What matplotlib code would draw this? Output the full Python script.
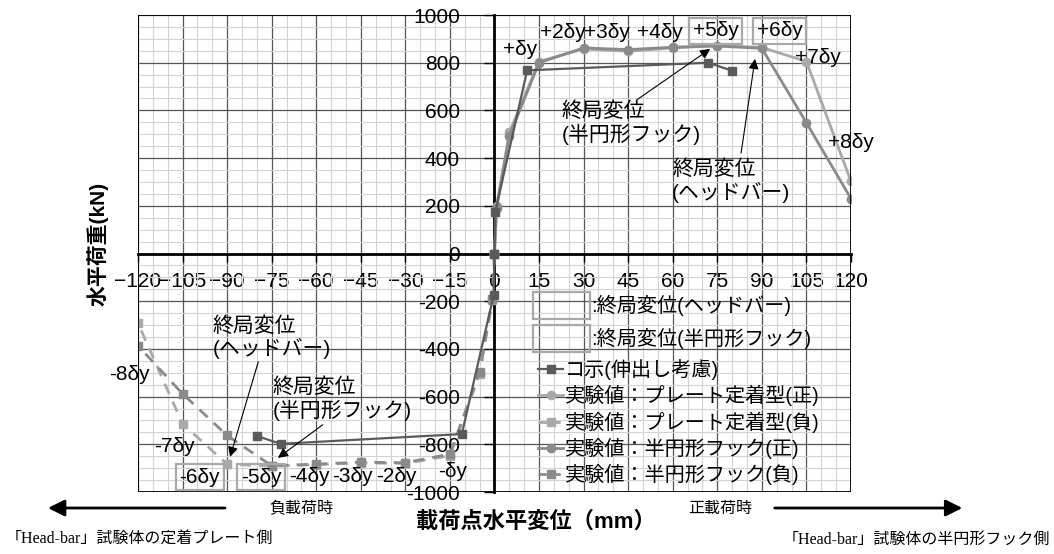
import matplotlib
matplotlib.use("Agg")
import matplotlib.pyplot as plt
from matplotlib.patches import Rectangle
from matplotlib.lines import Line2D

plt.rcParams['font.family'] = ['Liberation Sans', 'Noto Sans CJK JP']
plt.rcParams['axes.unicode_minus'] = True

# ---- data ----
kosi_x = [-80, -72, -11, -0.3, 0, 0.3, 11, 72, 80]
kosi_y = [-765, -798, -757, -176, 0, 176, 768, 800, 766]

pos_x = [0, 0.7, 5, 15, 30, 45, 60, 75, 90, 105, 120]
plate_pos_y = [0, 200, 508, 805, 858, 848, 862, 872, 864, 805, 302]
hook_pos_y = [0, 190, 492, 800, 862, 855, 865, 870, 860, 548, 230]

neg_x = [0, -0.7, -5, -15, -30, -45, -60, -75, -90, -105, -120]
plate_neg_y = [0, -195, -505, -848, -880, -878, -885, -892, -883, -714, -292]
hook_neg_y = [0, -190, -495, -841, -877, -875, -883, -890, -763, -588, -387]

x_ticks = list(range(-120, 121, 15))
y_ticks = list(range(-1000, 1001, 200))

legend_names = ['コ示(伸出し考慮)', '実験値：プレート定着型(正)', '実験値：プレート定着型(負)',
                '実験値：半円形フック(正)', '実験値：半円形フック(負)']
box_names = [':終局変位(ヘッドバー)', ':終局変位(半円形フック)']

step_labels = ['+δy', '+2δy', '+3δy', '+4δy', '+7δy', '+8δy',
               '-8δy', '-7δy', '-4δy', '-3δy', '-2δy', '-δy']
step_pos = [(8.6, 854), (22.9, 925), (38, 925), (55.7, 925), (109, 820), (120, 464),
            (-123, -509), (-107.7, -811), (-62.4, -937), (-47.7, -937), (-32.9, -937), (-14, -914)]
boxed_labels = ['+5δy', '+6δy', '-6δy', '-5δy']
boxed_pos = [(74.5, 934), (96, 934), (-99.2, -938), (-78.6, -938)]

LIGHT = '#a9a9a9'
MID = '#8a8a8a'
DARK = '#5a5a5a'

fig = plt.figure(figsize=(10.54, 5.54), dpi=100)
ax = fig.add_axes([0.1309, 0.1119, 0.6765, 0.861])

ax.set_xlim(-120, 120)
ax.set_ylim(-1000, 1000)
ax.set_xticks(x_ticks)
ax.set_yticks(y_ticks)
ax.set_yticklabels([str(v) for v in y_ticks])
ax.set_xticks(range(-120, 121, 5), minor=True)
ax.set_yticks(range(-1000, 1001, 50), minor=True)
ax.grid(which='minor', color='#d3d3d3', lw=0.8)
ax.grid(which='major', color='#555555', lw=0.9)
ax.set_axisbelow(True)

for s in ['top', 'right']:
    ax.spines[s].set_visible(False)
ax.spines['left'].set_position('zero')
ax.spines['bottom'].set_position('zero')
ax.spines['left'].set_linewidth(2)
ax.spines['bottom'].set_linewidth(2)
ax.add_patch(Rectangle((0, 0), 1, 1, transform=ax.transAxes, fill=False,
                       ec='black', lw=1.3, zorder=5))

ax.tick_params(axis='x', which='major', direction='out', length=6, width=1,
               pad=7, labelsize=15)
ax.tick_params(axis='y', which='major', direction='out', length=7, width=1,
               pad=18, labelsize=15)
ax.tick_params(which='minor', length=0)

ax.plot(neg_x, plate_neg_y, color=LIGHT, marker='s', ms=6, lw=2, dashes=(4, 3), zorder=3)
ax.plot(pos_x, plate_pos_y, color=LIGHT, marker='o', ms=6, lw=2, zorder=3)
ax.plot(neg_x, hook_neg_y, color=MID, marker='s', ms=6, lw=2, dashes=(4, 3), zorder=3)
ax.plot(pos_x, hook_pos_y, color=MID, marker='o', ms=6, lw=2, zorder=3)
ax.plot(kosi_x, kosi_y, color=DARK, marker='s', ms=6, lw=1.6, zorder=4)

# step labels
for t, (x, y) in zip(step_labels, step_pos):
    ax.text(x, y, t, fontsize=15, ha='center', va='center', clip_on=False, zorder=6)
for t, (x, y) in zip(boxed_labels, boxed_pos):
    ax.text(x, y, t, fontsize=15, ha='center', va='center', zorder=6,
            bbox=dict(boxstyle='square,pad=0.17', fc='none', ec=LIGHT, lw=1.6))

# ultimate displacement notes
notes = [('終局変位\n(半円形フック)', (22.7, 636), (48, 645), (72.6, 858)),
         ('終局変位\n(ヘッドバー)', (59.8, 393), (83, 421), (87.7, 816)),
         ('終局変位\n(ヘッドバー)', (-94.8, -262), (-79.5, -454), (-89, -853)),
         ('終局変位\n(半円形フック)', (-74.6, -519), (-57.8, -718), (-72.9, -857))]
for t, tp, tail, head in notes:
    ax.text(tp[0], tp[1], t, fontsize=15, ha='left', va='top', linespacing=1.15, zorder=6)
    ax.annotate('', xy=head, xytext=tail,
                arrowprops=dict(arrowstyle='-|>', color='black', lw=0.8,
                                mutation_scale=15, shrinkA=0, shrinkB=0), zorder=6)

# legend: ultimate displacement box entries
box_rows = [-217, -356]
for t, yc in zip(box_names, box_rows):
    ax.add_patch(Rectangle((13.0, yc - 56), 19.2, 112, fill=False, ec=LIGHT, lw=1.6, zorder=6))
    ax.text(32.4, yc, t, fontsize=14.5, ha='left', va='center', zorder=6)

line_handles = [
    Line2D([], [], color=DARK, marker='s', ms=6, lw=1.6),
    Line2D([], [], color=LIGHT, marker='o', ms=6, lw=2),
    Line2D([], [], color=LIGHT, marker='s', ms=6, lw=2, dashes=(3, 2)),
    Line2D([], [], color=MID, marker='o', ms=6, lw=2),
    Line2D([], [], color=MID, marker='s', ms=6, lw=2, dashes=(3, 2)),
]
ax.legend(line_handles, legend_names, loc='upper left', bbox_to_anchor=(0.561, 0.279),
          frameon=False, fontsize=14.5, handlelength=1.25, handletextpad=0.1,
          labelspacing=0.26, borderpad=0, borderaxespad=0, numpoints=1)

# axis titles
fig.text(0.093, 0.56, '水平荷重(kN)', rotation=90, fontsize=15, fontweight='bold',
         ha='center', va='center')
fig.text(0.508, 0.058, '載荷点水平変位（mm）', fontsize=16, fontweight='bold',
         ha='center', va='center')

# loading direction notes
fig.text(0.2856, 0.083, '負載荷時', fontsize=11.5, ha='center', va='center')
fig.text(0.683, 0.083, '正載荷時', fontsize=11.5, ha='center', va='center')
serif = ['Liberation Serif', 'Noto Sans CJK JP']
fig.text(0.005, 0.025, '「Head-bar」試験体の定着プレート側', fontsize=11.5,
         family=serif, ha='left', va='center')
fig.text(0.996, 0.025, '「Head-bar」試験体の半円形フック側', fontsize=11.5,
         family=serif, ha='right', va='center')
ax.annotate('', xy=(0.0455, 0.083), xytext=(0.2135, 0.083), xycoords='figure fraction',
            arrowprops=dict(arrowstyle='-|>', color='black', lw=2, mutation_scale=25,
                            shrinkA=0, shrinkB=0), annotation_clip=False)
ax.annotate('', xy=(0.913, 0.083), xytext=(0.735, 0.083), xycoords='figure fraction',
            arrowprops=dict(arrowstyle='-|>', color='black', lw=2, mutation_scale=25,
                            shrinkA=0, shrinkB=0), annotation_clip=False)

fig.savefig('out.png', dpi=100)
